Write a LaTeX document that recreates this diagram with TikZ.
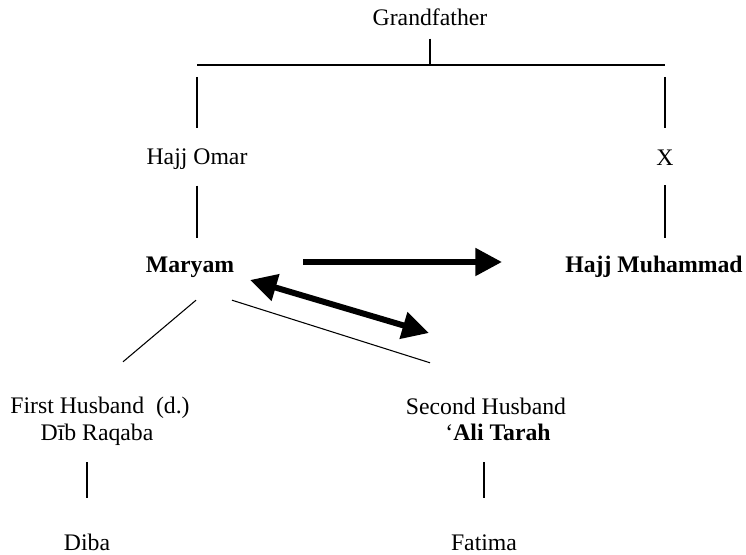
\documentclass[tikz,border=0pt]{standalone}
\usepackage{fontspec}
\setmainfont{Liberation Serif}
\usetikzlibrary{arrows.meta,calc}

\begin{document}
\begin{tikzpicture}[x=0.75pt,y=-0.75pt,line width=0.8pt,
        every node/.style={inner sep=0pt,text height=14pt,text depth=2pt,font=\fontsize{17.8}{20.5}\selectfont},
        heavy/.style={font=\fontsize{17.8}{20.5}\selectfont\bfseries},
        fat/.style={line width=4.5pt,-{Triangle[length=20pt,width=20pt]}},
        fatboth/.style={line width=4.5pt,{Triangle[length=20pt,width=20pt]}-{Triangle[length=20pt,width=20pt]}}]
        \useasboundingbox (0,0) rectangle (746,555);
        \node (gf) at (430,18) {Grandfather};
        \coordinate (barL) at (197,65);
        \coordinate (barR) at (665,65);
        \node (omar) at (197,157) {Hajj Omar};
        \node (unknown) at (665,158) {X};
        \node[heavy] (maryam) at (190,265) {Maryam};
        \node[heavy] (muhammad) at (654,265) {Hajj Muhammad};
        \node (husbone) at (100,406) {First Husband\ \ (d.)};
        \node (dib) at (97,433) {Dīb Raqaba};
        \node (husbtwo) at (486,407) {Second Husband};
        \node[heavy] (ali) at (498,433) {{\mdseries ‘}Ali Tarah};
        \node (diba) at (87,543) {Diba};
        \node (fatima) at (484,543) {Fatima};
        \draw (barL) -- (barR);
        \draw[shorten <=7pt] (gf) -- (gf |- barL);
        \draw[shorten <=9pt,shorten >=13.5pt] (barL) -- (omar);
        \draw[shorten <=9pt,shorten >=14pt] (barR) -- (unknown);
        \draw[shorten <=13pt,shorten >=20pt] (omar) -- (omar |- maryam);
        \draw[shorten <=12pt,shorten >=20pt] (unknown) -- (unknown |- muhammad);
        \draw ([shift={(6,24)}]maryam.south) -- ([shift={(23,-33)}]husbone.north);
        \draw ([shift={(42,24)}]maryam.south) -- ([shift={(-56,-33)}]husbtwo.north);
        \draw[shorten <=13.5pt,shorten >=25.5pt] (diba |- dib.south) -- (diba.north);
        \draw[shorten <=13.5pt,shorten >=25.5pt] (fatima |- ali.south) -- (fatima.north);
        \draw[fat] ([shift={(113,-3)}]maryam.center) -- ([shift={(-152,-3)}]muhammad.center);
        \draw[fatboth] ([shift={(60,15)}]maryam.center) -- ([shift={(-57,-74)}]husbtwo.center);
\end{tikzpicture}
\end{document}
